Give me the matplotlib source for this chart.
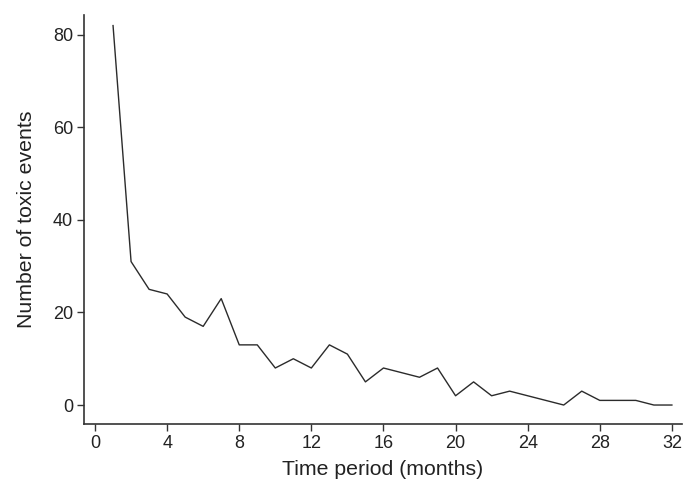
import numpy as np
import matplotlib
matplotlib.use('Agg')
import matplotlib.pyplot as plt

# Monthly counts
months = list(range(1, 33))
toxic_events = [82, 31, 25, 24, 19, 17, 23, 13, 13, 8, 10, 8, 13, 11, 5, 8,
                7, 6, 8, 2, 5, 2, 3, 2, 1, 0, 3, 1, 1, 1, 0, 0]
xticks = list(range(0, 33, 4))
yticks = [0, 20, 40, 60, 80]

plt.rcParams['font.family'] = ['Liberation Sans', 'DejaVu Sans']

fig = plt.figure(figsize=(6.87, 4.98), dpi=100, facecolor='white')
ax = fig.add_axes([0.1223, 0.1486, 0.8704, 0.8214])

ax.plot(months, toxic_events, color='#2b2b2b', linewidth=1.0)

ax.set_xlim(-0.61, 32.56)
ax.set_ylim(-4.1, 84.3)
ax.set_xticks(xticks)
ax.set_yticks(yticks)

for side in ['top', 'right']:
    ax.spines[side].set_visible(False)
for side in ['left', 'bottom']:
    ax.spines[side].set_color('#333333')
    ax.spines[side].set_linewidth(1.2)

ax.tick_params(axis='both', direction='out', length=5, width=1, colors='#333333',
               labelsize=13, labelcolor='#222222', pad=3)

ax.set_xlabel('Time period (months)', fontsize=15.3, color='#222222', labelpad=6)
ax.set_ylabel('Number of toxic events', fontsize=15.3, color='#222222', labelpad=12)

fig.savefig('out.png', dpi=100, facecolor='white')
